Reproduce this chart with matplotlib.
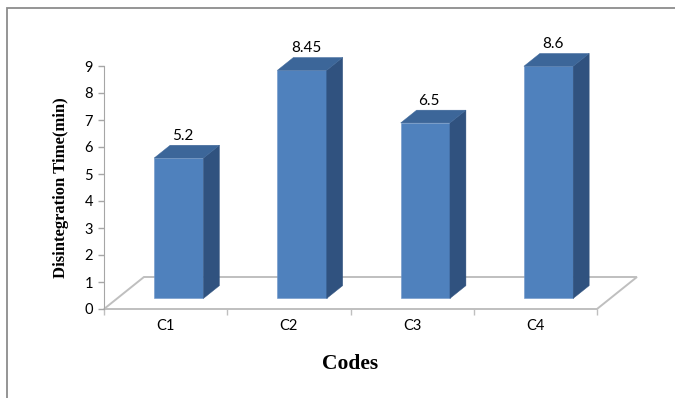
import matplotlib
matplotlib.use("Agg")
import matplotlib.pyplot as plt
from matplotlib.patches import Polygon, Rectangle

# Data
codes = ["C1", "C2", "C3", "C4"]
times = [5.2, 8.45, 6.5, 8.6]
y_ticks = list(range(0, 10))

# Colours
FRONT = "#4F81BD"
TOP = "#3C6699"
SIDE = "#30527F"
FRAME = "#BFBFBF"

# Oblique depth of the floor, in data units (x: categories, y: values)
DEPTH_X = 0.324
DEPTH_Y = 1.185
BAR_START = 0.33   # fraction of depth where bar front face sits
BAR_DEPTH = 0.40   # fraction of depth occupied by a bar
BAR_W = 0.40       # bar width in category units

W, H = 675, 398
fig = plt.figure(figsize=(W / 100, H / 100), dpi=100)
ax = fig.add_axes([104 / W, 89 / H, (597 - 104) / W, (332 - 89) / H])
ax.set_xlim(0, len(codes))
ax.set_ylim(0, 9)

# Chart-area border (left and top edges)
fig.add_artist(Rectangle((7 / W, -0.2), 1.5, 1 - 8 / H + 0.2, transform=fig.transFigure,
                         fill=False, edgecolor="#8C8C8C", lw=1.3))

# Floor outline
n = len(codes)
floor = [(0, 0), (n, 0), (n + DEPTH_X, DEPTH_Y), (DEPTH_X, DEPTH_Y)]
ax.add_patch(Polygon(floor, closed=True, fill=False, edgecolor=FRAME, lw=1.4,
                     clip_on=False, zorder=1))

# Bars: front faces
x0 = [i + 0.5 + BAR_START * DEPTH_X for i in range(n)]
base = BAR_START * DEPTH_Y
ax.bar(x0, times, width=BAR_W, bottom=base, color=FRONT, edgecolor="#6D95C8",
       lw=0.4, zorder=3, clip_on=False)

ddx = BAR_DEPTH * DEPTH_X
ddy = BAR_DEPTH * DEPTH_Y
for xc, v in zip(x0, times):
    left, right = xc - BAR_W / 2, xc + BAR_W / 2
    top = base + v
    side = [(right, base), (right + ddx, base + ddy), (right + ddx, top + ddy), (right, top)]
    lid = [(left, top), (right, top), (right + ddx, top + ddy), (left + ddx, top + ddy)]
    ax.add_patch(Polygon(side, closed=True, facecolor=SIDE, edgecolor=SIDE, lw=0.3,
                         clip_on=False, zorder=3))
    ax.add_patch(Polygon(lid, closed=True, facecolor=TOP, edgecolor=TOP, lw=0.3,
                         clip_on=False, zorder=3))
    ax.annotate(f"{v:g}", (xc + 0.1 * DEPTH_X, top + ddy), xytext=(0, 1.5),
                textcoords="offset points", ha="center", va="bottom",
                fontsize=11, family="Lato", color="#000000", annotation_clip=False)

# Axes styling
for s in ["top", "right"]:
    ax.spines[s].set_visible(False)
ax.spines["left"].set_color("#A6A6A6")
ax.spines["bottom"].set_visible(False)
ax.set_yticks(y_ticks)
ax.set_yticklabels([str(t) for t in y_ticks], family="Lato", fontsize=10.5)
ax.tick_params(axis="y", direction="out", length=4, width=1, color="#A6A6A6", pad=4)

ax.set_xticks(range(n + 1))
ax.set_xticklabels([])
ax.tick_params(axis="x", direction="out", length=4, width=1, color=FRAME)
ax.set_xticks([i + 0.5 for i in range(n)], minor=True)
ax.set_xticklabels(codes, minor=True, family="Lato", fontsize=10.5)
ax.tick_params(axis="x", which="minor", length=0, pad=7)

ax.set_ylabel("Disintegration Time(min)", family="Liberation Serif", fontweight="bold",
              fontsize=12, labelpad=11)
ax.set_xlabel("Codes", family="Liberation Serif", fontweight="bold", fontsize=15.5,
              labelpad=15)
ax.patch.set_visible(False)

fig.savefig("out.png", dpi=100)
